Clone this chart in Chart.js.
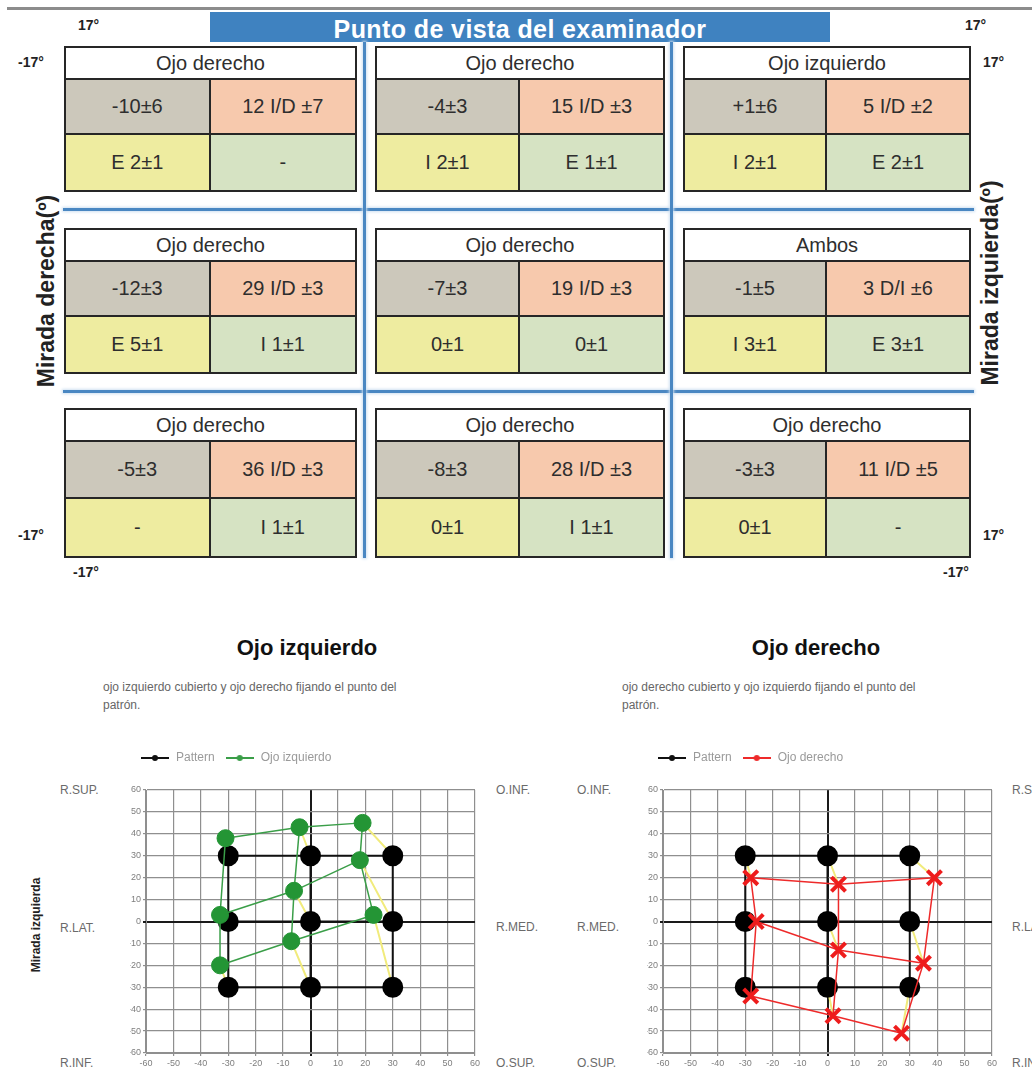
<!DOCTYPE html>
<html>
<head>
<meta charset="utf-8">
<script src="https://cdn.jsdelivr.net/npm/chart.js@4.4.1/dist/chart.umd.min.js"></script>
<style>
html, body { margin: 0; padding: 0; background: #fff; overflow: hidden; }
body { font-family: "Liberation Sans", Arial, sans-serif; }
#page { position: relative; width: 1032px; height: 1075px; overflow: hidden; }
.deg { position: absolute; font-weight: bold; font-size: 14px; color: #222; line-height: 16px; }
.box { position: absolute; border: 2px solid #262626; box-sizing: border-box; display: grid;
       grid-template-columns: 1fr 1fr; grid-template-rows: 32px 1fr 1fr; background: #fff; }
.box div { display: flex; align-items: center; justify-content: center; font-size: 20px; color: #2e2e2e; }
.box .hd { grid-column: 1 / 3; border-bottom: 2px solid #262626; }
.box .c1 { background: #ccc8bb; border-right: 2px solid #262626; border-bottom: 2px solid #262626; }
.box .c2 { background: #f7c9ad; border-bottom: 2px solid #262626; }
.box .c3 { background: #eeeca0; border-right: 2px solid #262626; }
.box .c4 { background: #d6e3c3; }
.hsep, .vsep { position: absolute; background: #4a87c2; box-shadow: 0 0 3px 1px #cfe0f1; }
.rot { position: absolute; transform: translate(-50%, -50%) rotate(-90deg); white-space: nowrap; font-weight: bold; color: #222; }
.side { position: absolute; font-size: 12px; color: #6a6a6a; transform: translateY(-50%); white-space: nowrap; }
.ttl { position: absolute; font-size: 22px; font-weight: bold; color: #111; transform: translate(-50%, -50%); white-space: nowrap; }
.sub { position: absolute; font-size: 12px; color: #666; line-height: 18px; white-space: nowrap; }
.hess { position: absolute; width: 370px; height: 333px; }
</style>
</head>
<body>
<div id="page">
  <div style="position:absolute;left:7px;top:7px;width:1025px;height:3px;background:#8c8c8c;"></div>
  <div style="position:absolute;left:210px;top:12px;width:620px;height:30px;background:#3f82c0;"></div>
  <div style="position:absolute;left:210px;top:14px;width:620px;text-align:center;color:#fff;font-weight:bold;font-size:25px;letter-spacing:0.4px;line-height:30px;">Punto de vista del examinador</div>

  <div class="deg" style="left:78px;top:17px;">17°</div>
  <div class="deg" style="left:18px;top:54px;">-17°</div>
  <div class="deg" style="left:965px;top:17px;">17°</div>
  <div class="deg" style="left:983px;top:54px;">17°</div>
  <div class="deg" style="left:18px;top:527px;">-17°</div>
  <div class="deg" style="left:73px;top:564px;">-17°</div>
  <div class="deg" style="left:983px;top:527px;">17°</div>
  <div class="deg" style="left:943px;top:564px;">-17°</div>

  <div class="rot" style="left:46px;top:291px;font-size:23px;">Mirada derecha(º)</div>
  <div class="rot" style="left:990px;top:283px;font-size:23px;">Mirada izquierda(º)</div>

  <div class="hsep" style="left:63px;top:208px;width:911px;height:3px;"></div>
  <div class="hsep" style="left:63px;top:390px;width:911px;height:3px;"></div>
  <div class="vsep" style="left:363px;top:42px;width:3px;height:516px;"></div>
  <div class="vsep" style="left:670px;top:42px;width:3px;height:516px;"></div>

  <div id="boxes"></div>

  <div class="ttl" style="left:307px;top:648px;">Ojo izquierdo</div>
  <div class="sub" style="left:103px;top:678px;">ojo izquierdo cubierto y ojo derecho fijando el punto del<br>patrón.</div>
  <div class="ttl" style="left:816px;top:648px;">Ojo derecho</div>
  <div class="sub" style="left:622px;top:678px;">ojo derecho cubierto y ojo izquierdo fijando el punto del<br>patrón.</div>

  <div class="rot" style="left:36px;top:925px;font-size:12px;">Mirada izquierda</div>
  <div class="side" style="left:60px;top:790px;">R.SUP.</div>
  <div class="side" style="left:60px;top:928px;">R.LAT.</div>
  <div class="side" style="left:60px;top:1063px;">R.INF.</div>
  <div class="side" style="left:496px;top:790px;">O.INF.</div>
  <div class="side" style="left:496px;top:927px;">R.MED.</div>
  <div class="side" style="left:496px;top:1063px;">O.SUP.</div>
  <div class="side" style="left:577px;top:790px;">O.INF.</div>
  <div class="side" style="left:577px;top:927px;">R.MED.</div>
  <div class="side" style="left:577px;top:1063px;">O.SUP.</div>
  <div class="side" style="left:1012px;top:790px;">R.SUP.</div>
  <div class="side" style="left:1012px;top:927px;">R.LAT.</div>
  <div class="side" style="left:1012px;top:1063px;">R.INF.</div>

  <div class="hess" style="left:120px;top:742px;"><canvas id="hess_left"></canvas></div>
  <div class="hess" style="left:637px;top:742px;"><canvas id="hess_right"></canvas></div>
</div>

<script>
// cover test table: one entry per gaze position, row by row
var boxTitles = ["Ojo derecho", "Ojo derecho", "Ojo izquierdo",
                 "Ojo derecho", "Ojo derecho", "Ambos",
                 "Ojo derecho", "Ojo derecho", "Ojo derecho"];
var deviationCells = ["-10±6", "-4±3", "+1±6", "-12±3", "-7±3", "-1±5", "-5±3", "-8±3", "-3±3"];
var verticalCells = ["12 I/D ±7", "15 I/D ±3", "5 I/D ±2", "29 I/D ±3", "19 I/D ±3", "3 D/I ±6", "36 I/D ±3", "28 I/D ±3", "11 I/D ±5"];
var torsionCells = ["E 2±1", "I 2±1", "I 2±1", "E 5±1", "0±1", "I 3±1", "-", "0±1", "0±1"];
var cyclCells = ["-", "E 1±1", "E 2±1", "I 1±1", "0±1", "E 3±1", "I 1±1", "I 1±1", "-"];

// Hess screen data (degrees), order: top row, middle row, bottom row
var patternX = [-30, 0, 30, -30, 0, 30, -30, 0, 30];
var patternY = [30, 30, 30, 0, 0, 0, -30, -30, -30];
var leftEyeX = [-31, -4, 19, -33, -6, 18, -33, -7, 23];
var leftEyeY = [38, 43, 45, 3, 14, 28, -20, -9, 3];
var rightEyeX = [-28, 4, 39, -26, 4, 35, -28, 2, 27];
var rightEyeY = [20, 17, 20, 0, -13, -19, -34, -43, -51];
var axisMin = -60, axisMax = 60, axisStep = 10;

// boxes of the table
var colLeft = [64, 375, 683], colWidth = [293, 290, 288];
var rowTop = [46, 228, 408], rowHeight = [146, 146, 150];
var holder = document.getElementById('boxes');
for (var i = 0; i < boxTitles.length; i++) {
    var r = Math.floor(i / 3), c = i % 3;
    var b = document.createElement('div');
    b.className = 'box';
    b.style.left = colLeft[c] + 'px';
    b.style.top = rowTop[r] + 'px';
    b.style.width = colWidth[c] + 'px';
    b.style.height = rowHeight[r] + 'px';
    var parts = [['hd', boxTitles[i]], ['c1', deviationCells[i]], ['c2', verticalCells[i]],
                 ['c3', torsionCells[i]], ['c4', cyclCells[i]]];
    parts.forEach(function (p) {
        var d = document.createElement('div');
        d.className = p[0];
        d.textContent = p[1];
        b.appendChild(d);
    });
    holder.appendChild(b);
}

// rows, then columns, of the 3x3 grid; the first 11 entries hold every point once
var gridPath = [0, 1, 2, null, 3, 4, 5, null, 6, 7, 8, null, 0, 3, 6, null, 1, 4, 7, null, 2, 5, 8];

function buildPath(xs, ys) {
    return gridPath.map(function (k) {
        return k === null ? {x: null, y: null} : {x: xs[k], y: ys[k]};
    });
}

// segment from each measured point back to its pattern point
function buildShift(xs, ys) {
    var out = [];
    for (var k = 0; k < xs.length; k++) {
        out.push({x: xs[k], y: ys[k]}, {x: patternX[k], y: patternY[k]}, {x: null, y: null});
    }
    return out;
}

function legendMark(color) {
    var cv = document.createElement('canvas');
    cv.width = 28; cv.height = 10;
    var g = cv.getContext('2d');
    g.strokeStyle = color; g.lineWidth = 2;
    g.beginPath(); g.moveTo(0, 5); g.lineTo(28, 5); g.stroke();
    g.fillStyle = color;
    g.beginPath(); g.arc(14, 5, 3, 0, Math.PI * 2); g.fill();
    return cv;
}

Chart.defaults.font.family = '"Liberation Sans", Arial, sans-serif';

// crude way to leave a gap between legend and plot
var legendGap = {
    id: 'legendGap',
    beforeInit: function (chart) {
        var fit = chart.legend.fit;
        chart.legend.fit = function () {
            fit.bind(chart.legend)();
            this.height += 16;
        };
    }
};

function axis(pos) {
    return {
        type: 'linear',
        position: pos,
        min: axisMin,
        max: axisMax,
        ticks: {stepSize: axisStep, color: '#7e7e7e', font: {size: 9}, padding: 2, maxRotation: 0, autoSkip: false},
        grid: {
            color: function (c) { return c.tick && c.tick.value === 0 ? '#1a1a1a' : '#8f8f8f'; },
            lineWidth: function (c) { return c.tick && c.tick.value === 0 ? 2 : 1.2; },
            tickLength: 3
        },
        border: {color: '#8f8f8f'},
        afterFit: function (s) {
            if (pos === 'left') { s.width = 16; } else { s.height = 22; }
        }
    };
}

function makeHess(id, eyeX, eyeY, eyeLabel, lineColor, markColor, style, radius, markWidth) {
    var marks = [legendMark('#111'), legendMark(lineColor)];
    return new Chart(document.getElementById(id).getContext('2d'), {
        type: 'scatter',
        data: {
            datasets: [
                {
                    label: 'Pattern',
                    data: buildPath(patternX, patternY),
                    showLine: true,
                    borderColor: '#111',
                    backgroundColor: '#111',
                    borderWidth: 2,
                    pointStyle: 'circle',
                    pointBackgroundColor: '#000',
                    pointBorderColor: '#000',
                    pointRadius: function (c) { return c.dataIndex < 11 ? 9.5 : 0; },
                    order: 1
                },
                {
                    label: eyeLabel,
                    data: buildPath(eyeX, eyeY),
                    showLine: true,
                    borderColor: lineColor,
                    backgroundColor: markColor,
                    borderWidth: 1.5,
                    pointStyle: style,
                    pointBackgroundColor: markColor,
                    pointBorderColor: markColor,
                    pointBorderWidth: markWidth,
                    pointRadius: function (c) { return c.dataIndex < 11 ? radius : 0; },
                    order: 0
                },
                {
                    label: 'shift',
                    data: buildShift(eyeX, eyeY),
                    showLine: true,
                    borderColor: '#f1eb7c',
                    borderWidth: 2,
                    pointRadius: 0,
                    order: 2
                }
            ]
        },
        options: {
            responsive: true,
            maintainAspectRatio: false,
            animation: false,
            layout: {padding: {left: 10, right: 15, top: 0, bottom: 0}},
            plugins: {
                tooltip: {enabled: false},
                legend: {
                    position: 'top',
                    align: 'start',
                    labels: {
                        usePointStyle: true,
                        pointStyleWidth: 30,
                        padding: 10,
                        color: '#9a9a9a',
                        font: {size: 12},
                        generateLabels: function (chart) {
                            return Chart.defaults.plugins.legend.labels.generateLabels(chart)
                                .filter(function (it) { return it.datasetIndex < 2; })
                                .sort(function (a, b) { return a.datasetIndex - b.datasetIndex; })
                                .map(function (it) { it.pointStyle = marks[it.datasetIndex]; return it; });
                        }
                    }
                }
            },
            scales: {
                x: axis('bottom'),
                y: axis('left')
            }
        },
        plugins: [legendGap]
    });
}

makeHess('hess_left', leftEyeX, leftEyeY, 'Ojo izquierdo', '#3a9e48', '#249535', 'circle', 8.5, 1);
makeHess('hess_right', rightEyeX, rightEyeY, 'Ojo derecho', '#ee2a2a', '#ee1c1c', 'crossRot', 10, 4);
</script>
</body>
</html>
